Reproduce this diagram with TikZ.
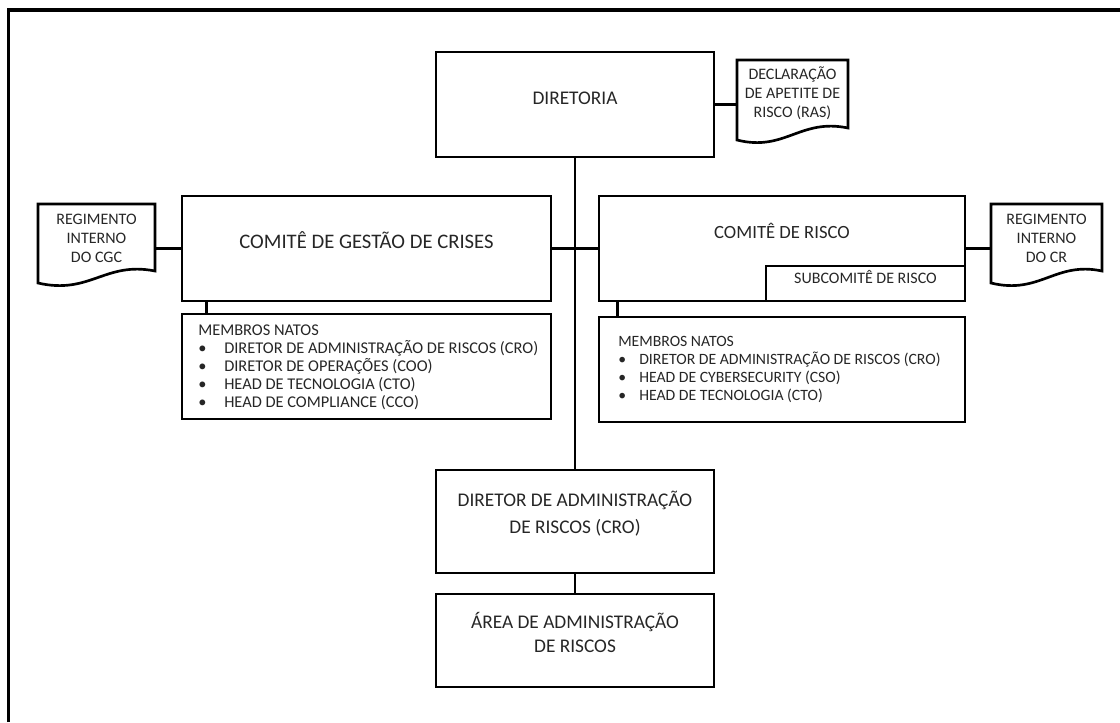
\documentclass[tikz,border=0pt]{standalone}
\usepackage{fontspec}
\setmainfont{Carlito}
\usetikzlibrary{fit,calc}
\definecolor{txt}{RGB}{38,38,38}
\begin{document}
\begin{tikzpicture}[x=0.75pt,y=-0.75pt,
  box/.style={draw, line width=2pt, inner sep=0pt, text=txt, align=center},
  conn/.style={line width=2pt},
  big/.style={font=\fontsize{14.5}{20}\selectfont},
  mid/.style={font=\fontsize{12}{14.3}\selectfont},
  small/.style={text=txt},
  docfit/.style={inner sep=0pt, text=txt, align=center, font=\fontsize{12}{14.3}\selectfont},
  docline/.style={line width=2pt, line join=miter}]
\useasboundingbox (0,0) rectangle (1120,722);
\draw[line width=2.4pt] (8.5,722) -- (8.5,10) -- (1120,10);

% main boxes
\node[box, big, fit={(436,52) (714,157)}] (dir) {DIRETORIA};
\node[box, fit={(182,196) (551,301)}, font=\fontsize{15.5}{20}\selectfont] (cgc) {COMITÊ DE GESTÃO DE CRISES};
\node[box, fit={(599,196) (965,301)}] (cr) {};
\node[text=txt, font=\fontsize{14}{20}\selectfont] (crt) at (782,231) {COMITÊ DE RISCO};
\node[box, mid, fit={(766,266) (965,301)}] (sub) {SUBCOMITÊ DE RISCO};
\node[box, fit={(182,314) (551,419)}] (cgcm) {};
\node[box, fit={(599,317) (965,422)}] (crm) {};
\node[box, fit={(436,470) (714,573)}, font=\fontsize{14.5}{20}\selectfont] (cro) {DIRETOR DE ADMINISTRAÇÃO\\DE RISCOS (CRO)};
\node[box, fit={(436,594) (714,687)}, font=\fontsize{14.5}{17.5}\selectfont] (area) {ÁREA DE ADMINISTRAÇÃO\\DE RISCOS};

% member texts
\node[small, anchor=west, align=left, inner sep=0pt, font=\fontsize{12.3}{13.4}\selectfont] (cgcmt) at (198,367.5)
 {MEMBROS NATOS\\
  \makebox[19.5pt][l]{\textbullet}DIRETOR DE ADMINISTRAÇÃO DE RISCOS (CRO)\\
  \makebox[19.5pt][l]{\textbullet}DIRETOR DE OPERAÇÕES (COO)\\
  \makebox[19.5pt][l]{\textbullet}HEAD DE TECNOLOGIA (CTO)\\
  \makebox[19.5pt][l]{\textbullet}HEAD DE COMPLIANCE (CCO)};
\node[small, anchor=west, align=left, inner sep=0pt, font=\fontsize{11.8}{13.7}\selectfont] (crmt) at (618,369.5)
 {MEMBROS NATOS\\
  \makebox[15.75pt][l]{\textbullet}DIRETOR DE ADMINISTRAÇÃO DE RISCOS (CRO)\\
  \makebox[15.75pt][l]{\textbullet}HEAD DE CYBERSECURITY (CSO)\\
  \makebox[15.75pt][l]{\textbullet}HEAD DE TECNOLOGIA (CTO)};

% document shapes
\draw[docline] (737,60) -- (848,60) -- (848,128)
  .. controls (800,118) and (785,152) .. (737,140) -- cycle;
\node[docfit, fit={(737,60) (848,140)}] (ras) {DECLARAÇÃO\\DE APETITE DE\\RISCO (RAS)};
\draw[docline] (38,204) -- (155,204) -- (155,271)
  .. controls (105,261) and (90,295) .. (38,283) -- cycle;
\node[docfit, fit={(38,204) (155,283)}] (dcgc) {REGIMENTO\\INTERNO\\DO CGC};
\draw[docline] (991,204) -- (1102,204) -- (1102,271)
  .. controls (1055,261) and (1040,295) .. (991,283) -- cycle;
\node[docfit, fit={(991,204) (1102,283)}] (dcr) {REGIMENTO\\INTERNO\\DO CR};

% connectors
\draw[conn] (dir.south) -- (cro.north);
\draw[conn] (cgc.east) -- (cr.west);
\draw[conn] (cro.south) -- (area.north);
\draw[conn] (dir.east) -- (dir.east -| ras.west);
\draw[conn] (cgc.west) -- (cgc.west -| dcgc.east);
\draw[conn] (cr.east) -- (cr.east -| dcr.west);
\draw[conn] ($(cgc.south west)+(26,0)$) -- ($(cgcm.north west)+(26,0)$);
\draw[conn] ($(cr.south west)+(20,0)$) -- ($(crm.north west)+(20,0)$);
\end{tikzpicture}
\end{document}
